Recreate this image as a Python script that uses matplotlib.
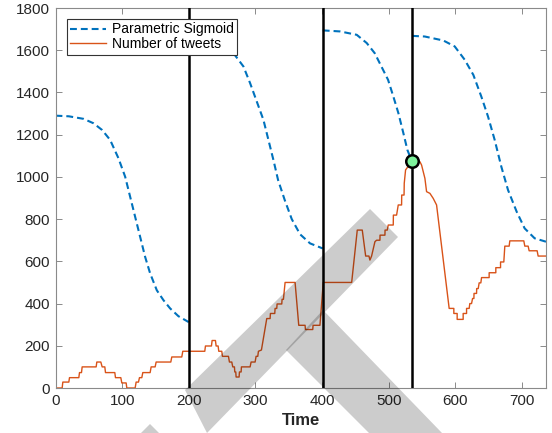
import matplotlib
matplotlib.use('Agg')
import matplotlib.pyplot as plt
from matplotlib.patches import Polygon

plt.rcParams['font.family'] = ['Liberation Sans', 'DejaVu Sans']

# parametric sigmoid, one piece per interval
sig1_x = [0, 20, 42, 57, 70, 82, 94.5, 104.5, 112, 119.5, 127, 134.5, 142, 152, 162, 172, 184.5, 200]
sig1_y = [1290, 1287, 1275, 1254, 1222, 1175, 1088, 1001, 906, 811, 716, 621, 543, 463, 416, 377, 340, 312]
sig2_x = [200, 215, 230, 245, 257, 267, 282, 292, 302, 312, 319.5, 327, 334, 344, 354.5, 367, 382, 401]
sig2_y = [1700, 1697, 1690, 1672, 1640, 1586, 1523, 1444, 1357, 1270, 1175, 1080, 985, 890, 800, 728, 685, 661]
sig3_x = [401, 427, 452, 467, 479, 489, 499, 507, 514.5, 522, 528, 535]
sig3_y = [1694, 1689, 1673, 1634, 1586, 1523, 1460, 1380, 1302, 1207, 1128, 1072]
sig4_x = [535, 554, 582, 599, 614, 627, 639, 649, 659, 669, 679, 692, 704, 719, 736]
sig4_y = [1668, 1665, 1646, 1618, 1555, 1483, 1380, 1286, 1175, 1048, 938, 835, 756, 709, 693]

# number of tweets (vertices of the stepped curve)
tw_x = [0, 10, 11, 20, 21, 35, 36, 39, 40, 61, 62, 68, 70, 74, 75, 89, 90, 98, 99.5, 106, 107, 119.5,
        121, 124.5, 126, 129.5, 131, 142, 143.5, 149.5, 151, 173, 174.5, 189.5, 191, 224, 225, 234,
        235, 240, 241, 244, 245, 249.5, 250.5, 259.5, 261, 264.5, 266, 268.5, 269, 270.5, 271, 275.5,
        276, 278.5, 279, 292, 293.5, 299.5, 301, 303.5, 304.5, 309, 317, 322, 322.5, 329, 329.5, 332,
        332.5, 339.5, 340, 342, 344.5, 359.5, 365, 374.5, 375, 386, 386.5, 396.8, 401.8, 444.4,
        452.8, 460.3, 465.4, 470.3, 471.8, 474.3, 479.3, 481.8, 486.8, 487, 494.3, 494.5, 497.8,
        499.3, 506.8, 507, 511.8, 514.3, 519.3, 519.5, 523, 523.3, 525.3, 534.3, 546.8, 549.3, 554.3,
        556.8, 561.8, 566.8, 571.8, 590.7, 597.7, 597.7, 602.7, 602.7, 611.7, 611.7, 616.8, 616.8,
        620.7, 621.7, 624.3, 625.8, 627.8, 628, 631.8, 632, 634.3, 635.7, 638.2, 639.3, 650.7, 650.7,
        660.7, 660.7, 667.8, 667.8, 672.7, 674.2, 680.7, 681.7, 702.7, 704.2, 709.2, 710.7, 722.7,
        724.2, 736]
tw_y = [0, 0, 28, 28, 49, 49, 73, 73, 100, 100, 123, 123, 100, 100, 73, 73, 49, 49, 24, 24, 0, 0,
        28, 28, 49, 49, 73, 73, 100, 100, 123, 123, 147, 147, 174, 174, 199, 199,
        225, 225, 199, 199, 174, 174, 150, 150, 123, 123, 100, 100, 76, 76, 52, 52,
        76, 76, 100, 100, 123, 123, 150, 150, 174, 180, 329, 329, 353, 353, 377, 377,
        398, 398, 420, 420, 500, 500, 297, 297, 277, 277, 297, 297, 500, 500,
        748, 748, 625, 625, 606, 625, 693, 700, 700, 724, 724, 748, 748,
        772, 772, 819, 819, 867, 867, 914, 914, 970, 1033, 1072, 1072, 1056, 993,
        930, 922, 898, 867, 377, 377, 353, 353, 325, 325, 353, 353, 377,
        377, 400, 400, 424, 424, 448, 448, 471, 471, 498, 498, 523, 523, 546,
        546, 570, 570, 597, 597, 672, 672, 697, 697, 672, 672, 650, 650,
        625, 625]

change_points = [200, 401, 535]
hit_x, hit_y = 535, 1075

fig = plt.figure(figsize=(5.52, 4.33), dpi=100)
ax = fig.add_axes([55.5 / 552, 45 / 433, 490.5 / 552, 380 / 433])

blue = '#0072BD'
orange = '#D95319'
dash = (3.3, 1.9)

ln_sig, = ax.plot(sig1_x, sig1_y, color=blue, lw=1.5, dashes=dash, label='Parametric Sigmoid')
for sx, sy in [(sig2_x, sig2_y), (sig3_x, sig3_y), (sig4_x, sig4_y)]:
    ax.plot(sx, sy, color=blue, lw=1.5, dashes=dash)
ln_tw, = ax.plot(tw_x, tw_y, color=orange, lw=1.0, label='Number of tweets')

for cp in change_points:
    ax.axvline(cp, color='k', lw=1.8, zorder=3)

ax.plot([hit_x], [hit_y], 'o', ms=9, mfc='#7DF29C', mec='k', mew=1.8, zorder=5)

ax.set_xlim(0, 736)
ax.set_ylim(0, 1800)
ax.set_xticks(range(0, 701, 100))
ax.set_yticks(range(0, 1801, 200))
ax.tick_params(direction='in', top=True, right=True, length=4, width=0.7,
               color='#8a8a8a', labelsize=11, labelcolor='#262626', pad=4)
for s in ax.spines.values():
    s.set_color('#8a8a8a')
    s.set_linewidth(0.8)
ax.set_xlabel('Time', fontsize=12, fontweight='bold', color='#262626', labelpad=4)

leg = ax.legend(handles=[ln_sig, ln_tw], loc='upper left',
                bbox_to_anchor=(11 / 490.5, 1 - 11 / 380), borderaxespad=0,
                fontsize=10, fancybox=False, framealpha=1, edgecolor='#333333',
                handlelength=2.6, labelspacing=0.05, borderpad=0.25, handletextpad=0.4)
leg.get_frame().set_linewidth(0.8)
leg.set_zorder(6)

# grey watermark drawn over the figure (pixel corners, y from top)
band_up = [(370, 209), (398, 237), (207, 433), (185, 390)]
band_down = [(323, 310), (442, 433), (369, 433), (286, 350)]
tip = [(150, 424), (141, 433), (159, 433)]
for shape in [band_up, band_down, tip]:
    pts = [(px / 552, 1 - py / 433) for px, py in shape]
    fig.add_artist(Polygon(pts, closed=True, transform=fig.transFigure,
                           facecolor='k', edgecolor='none', alpha=0.2, zorder=10))

fig.savefig('out.png', dpi=100)
